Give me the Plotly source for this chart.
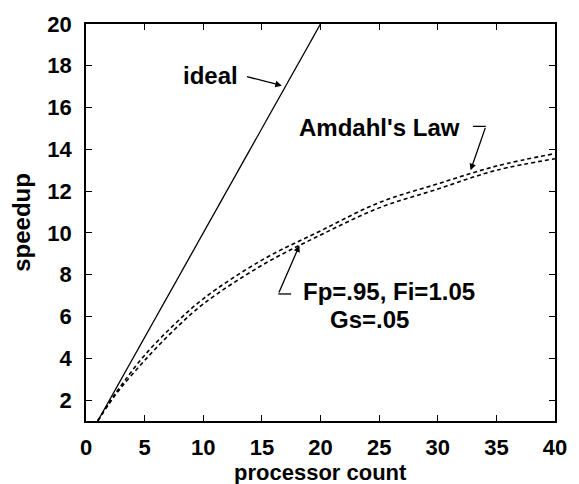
import plotly.graph_objects as go

# processor counts and measured/predicted speedups
procs = [1, 2, 3, 5, 7.5, 10, 15, 20, 25, 30, 35, 40]
amdahl = [1.0, 1.9, 2.7, 4.15, 5.6, 6.85, 8.7, 10.1, 11.45, 12.35, 13.2, 13.8]
fp_fi_gs = [1.0, 1.85, 2.6, 3.9, 5.35, 6.6, 8.45, 9.9, 11.2, 12.1, 13.0, 13.55]
ideal_x = [1, 20]
ideal_y = [1, 20]

x_ticks = [0, 5, 10, 15, 20, 25, 30, 35, 40]
y_ticks = [2, 4, 6, 8, 10, 12, 14, 16, 18, 20]

FONT = "Liberation Sans, Arial, Helvetica, sans-serif"
label_font = dict(family=FONT, size=24, color="black", weight="bold")

fig = go.Figure()
fig.add_trace(go.Scatter(x=ideal_x, y=ideal_y, mode="lines",
                         line=dict(color="black", width=1.3), hoverinfo="skip"))
fig.add_trace(go.Scatter(x=procs, y=amdahl, mode="lines", line_shape="spline",
                         line=dict(color="black", width=1.6, dash="4px,3px")))
fig.add_trace(go.Scatter(x=procs, y=fp_fi_gs, mode="lines", line_shape="spline",
                         line=dict(color="black", width=1.6, dash="4px,3px")))

arrow = dict(showarrow=True, arrowhead=2, arrowsize=1, arrowwidth=1.3,
             arrowcolor="black", standoff=0, text="", axref="x", ayref="y")

# "ideal" with arrow to the ideal line
fig.add_annotation(x=16.7, y=17.05, ax=13.6, ay=17.5, **arrow)
fig.add_annotation(x=10.65, y=17.55, text="ideal", showarrow=False, font=label_font)

# "Amdahl's Law" with bent leader
fig.add_annotation(x=25.0, y=15.06, text="Amdahl's Law", showarrow=False, font=label_font)
fig.add_shape(type="line", x0=33.0, y0=15.1, x1=34.1, y1=15.1,
              line=dict(color="black", width=1.3))
fig.add_annotation(x=32.8, y=13.0, ax=34.1, ay=15.1, **arrow)

# parameter label with bent leader
fig.add_annotation(x=25.8, y=7.2, text="Fp=.95, Fi=1.05", showarrow=False, font=label_font)
fig.add_annotation(x=24.15, y=5.85, text="Gs=.05", showarrow=False, font=label_font)
fig.add_shape(type="line", x0=16.4, y0=7.08, x1=17.5, y1=7.08,
              line=dict(color="black", width=1.3))
fig.add_annotation(x=18.2, y=9.4, ax=16.4, ay=7.08, **arrow)

# axis titles
fig.add_annotation(x=0.5, y=-0.13, xref="paper", yref="paper",
                   text="processor count", showarrow=False,
                   font=dict(family=FONT, size=22, color="black", weight="bold"),
                   xanchor="center", yanchor="middle")
fig.add_annotation(x=-0.138, y=0.5, xref="paper", yref="paper",
                   text="speedup", showarrow=False, font=label_font, textangle=-90,
                   xanchor="center", yanchor="middle")

axis_common = dict(showline=True, linecolor="black", linewidth=1.5, mirror="ticks",
                   ticks="inside", ticklen=6, tickwidth=1.2, tickcolor="black",
                   showgrid=False, zeroline=False,
                   tickfont=dict(family=FONT, size=22, color="black", weight="bold"))

fig.update_xaxes(range=[0, 40], tickvals=x_ticks, ticklabelstandoff=6, **axis_common)
fig.update_yaxes(range=[1, 20], tickvals=y_ticks, ticklabelstandoff=8, **axis_common)

fig.update_layout(width=579, height=484, showlegend=False,
                  plot_bgcolor="white", paper_bgcolor="white",
                  margin=dict(l=86, r=16, t=20, b=63))

fig.write_html("out.html")
